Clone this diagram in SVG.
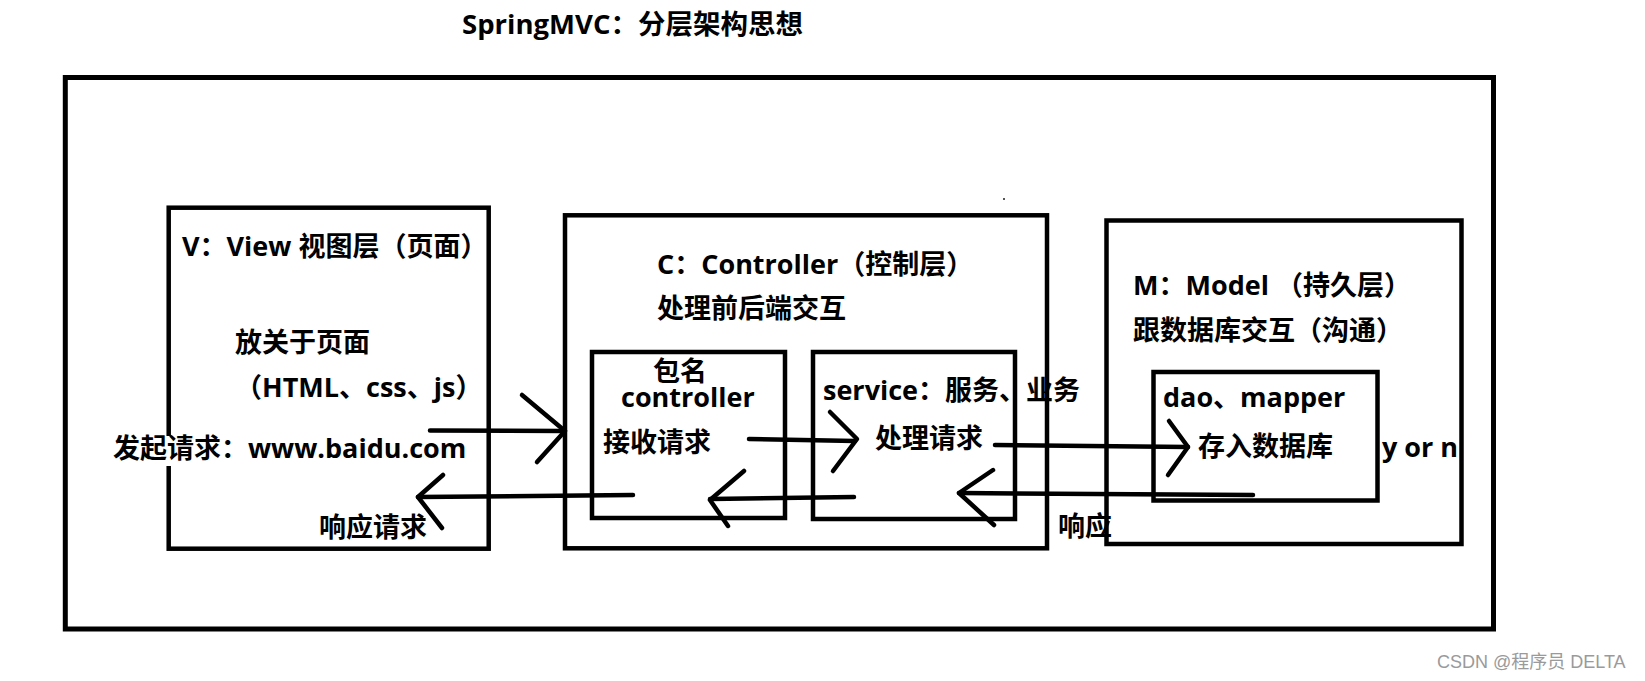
<svg xmlns="http://www.w3.org/2000/svg" width="1645" height="681" viewBox="0 0 1645 681">
<defs>
<style>
.box{fill:none;stroke:#000;stroke-width:4.5}
.outer{fill:none;stroke:#000;stroke-width:5}
.t{font-family:"Open Sans","Noto Sans CJK SC",sans-serif;font-weight:bold;font-size:27px;fill:#000}
.ln{fill:none;stroke:#000;stroke-width:4.5;stroke-linecap:round;stroke-linejoin:round}
.wm{font-family:"Liberation Sans","Noto Sans CJK SC",sans-serif;font-size:18px;fill:#9a9a9a}
</style>
</defs>
<rect width="1645" height="681" fill="#fff"/>
<text id="title" class="t" x="462" y="34" textLength="341" lengthAdjust="spacingAndGlyphs">SpringMVC：分层架构思想</text>
<rect id="outer" class="outer" x="65.3" y="77.5" width="1428.2" height="551.5"/>
<rect x="1003" y="198" width="2" height="2" fill="#555"/>
<g id="view">
<rect class="box" x="168.7" y="207.7" width="320" height="341"/>
<text class="t" x="182" y="256">V：View 视图层（页面）</text>
<text class="t" x="235" y="352">放关于页面</text>
<text class="t" x="235" y="397">（HTML、css、js）</text>
<rect x="160" y="436" width="20" height="30" fill="#fff"/>
<text class="t" x="113" y="458">发起请求：www.baidu.com</text>
<text class="t" x="319" y="537">响应请求</text>
</g>
<g id="controller-layer">
<rect class="box" x="565" y="215.3" width="482" height="333"/>
<text class="t" x="657" y="274">C：Controller（控制层）</text>
<text class="t" x="657" y="318">处理前后端交互</text>
</g>
<g id="controller">
<rect class="box" x="592" y="352" width="193" height="166"/>
<text class="t" x="653" y="381">包名</text>
<text class="t" x="621" y="407">controller</text>
<text class="t" x="603" y="452">接收请求</text>
</g>
<g id="service">
<rect class="box" x="813" y="352" width="202" height="167"/>
<text class="t" x="823" y="400">service：服务、业务</text>
<text class="t" x="875" y="448">处理请求</text>
</g>
<g id="model">
<rect class="box" x="1106.5" y="220.5" width="355" height="323.5"/>
<text class="t" x="1133" y="295">M：Model （持久层）</text>
<text class="t" x="1133" y="340">跟数据库交互（沟通）</text>
</g>
<g id="dao">
<rect class="box" x="1153.5" y="372" width="224" height="128.5"/>
<text class="t" x="1163" y="407">dao、mapper</text>
<text class="t" x="1198" y="456">存入数据库</text>
</g>
<text class="t" x="1382" y="457">y or n</text>
<text class="t" x="1058" y="536">响应</text>
<g id="connectors">
<line class="ln" x1="430" y1="430.5" x2="565" y2="431"/>
<polyline class="ln" points="522,395 565,431 537,462"/>
<line class="ln" x1="749" y1="439" x2="855" y2="441"/>
<polyline class="ln" points="830,412 857,439 833,471"/>
<line class="ln" x1="995" y1="445" x2="1188" y2="447"/>
<polyline class="ln" points="1169,421 1188,447 1168,475"/>
<line class="ln" x1="1253" y1="495" x2="959" y2="493"/>
<polyline class="ln" points="993,470 959,493 994,525"/>
<line class="ln" x1="854" y1="497" x2="710" y2="499"/>
<polyline class="ln" points="744,471 710,500 728,526"/>
<line class="ln" x1="633" y1="495" x2="418" y2="497"/>
<polyline class="ln" points="443,475 418,497 442,528"/>
</g>
<text class="wm" x="1437" y="668">CSDN @程序员 DELTA</text>
</svg>
